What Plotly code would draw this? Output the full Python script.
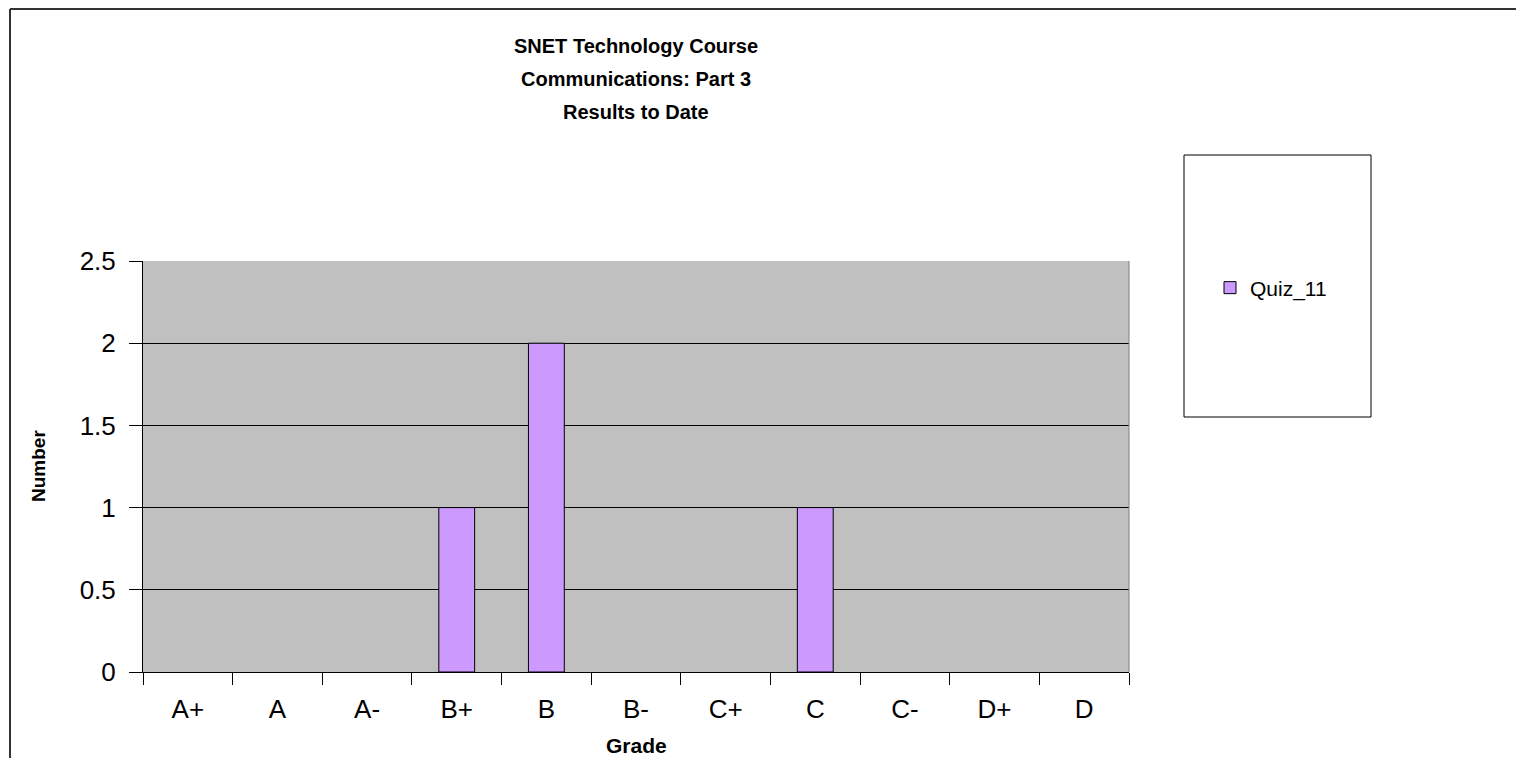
import plotly.graph_objects as go

grades = ["A+", "A", "A-", "B+", "B", "B-", "C+", "C", "C-", "D+", "D"]
quiz_11 = [0, 0, 0, 1, 2, 0, 0, 1, 0, 0, 0]
series_name = "Quiz_11"
title_lines = ["SNET Technology Course", "Communications: Part 3", "Results to Date"]
y_ticks = [0, 0.5, 1, 1.5, 2, 2.5]
y_tick_text = ["0", "0.5", "1", "1.5", "2", "2.5"]

# page has an 8px body margin; work in reference pixel coords and shift
OFF = 8
W, H = 1524 - OFF, 758 - OFF
L, R, T, B = 143 - OFF, 1129 - OFF, 261 - OFF, 672 - OFF
pw, ph = R - L, B - T


def px(x):
    return (x - OFF - L) / pw


def py(y):
    return (B - (y - OFF)) / ph


FONT = "Liberation Sans, Arial, sans-serif"

# zero counts are not drawn as bars (no outline at the baseline)
bar_y = [v if v > 0 else None for v in quiz_11]

fig = go.Figure()
fig.add_trace(go.Bar(
    x=grades, y=bar_y, name=series_name,
    marker=dict(color="#CC99FF", line=dict(color="#000000", width=1)),
    showlegend=True,
))

annotations = []
for line, yy in zip(title_lines, [46, 79, 112]):
    annotations.append(dict(
        text="<b>%s</b>" % line, x=0.5, y=py(yy), xref="paper", yref="paper",
        xanchor="center", yanchor="middle", showarrow=False,
        font=dict(family=FONT, size=20, color="#000000"),
    ))
annotations.append(dict(
    text="<b>Grade</b>", x=0.5, y=py(745), xref="paper", yref="paper",
    xanchor="center", yanchor="middle", showarrow=False,
    font=dict(family=FONT, size=21, color="#000000"),
))
annotations.append(dict(
    text="<b>Number</b>", x=px(38), y=py(466), xref="paper", yref="paper",
    xanchor="center", yanchor="middle", showarrow=False, textangle=-90,
    font=dict(family=FONT, size=19, color="#000000"),
))

shapes = [
    # outer chart border (top and left visible)
    dict(type="line", xref="paper", yref="paper", x0=px(10), x1=px(1530), y0=py(9), y1=py(9),
         line=dict(color="#333333", width=2)),
    dict(type="line", xref="paper", yref="paper", x0=px(10), x1=px(10), y0=py(9), y1=py(770),
         line=dict(color="#333333", width=2)),
    # plot area right edge
    dict(type="line", xref="paper", yref="paper", x0=1, x1=1, y0=0, y1=1,
         line=dict(color="#808080", width=1)),
    # legend box
    dict(type="rect", xref="paper", yref="paper", x0=px(1184), x1=px(1371), y0=py(417), y1=py(155),
         line=dict(color="#000000", width=1), fillcolor="rgba(0,0,0,0)"),
]

fig.update_layout(
    width=W, height=H,
    margin=dict(l=L, r=W - R, t=T, b=H - B, autoexpand=False),
    paper_bgcolor="#FFFFFF", plot_bgcolor="#C0C0C0",
    bargap=0.6,
    font=dict(family=FONT, color="#000000"),
    annotations=annotations,
    shapes=shapes,
    legend=dict(
        x=px(1210), y=py(288), xanchor="left", yanchor="middle",
        bgcolor="rgba(0,0,0,0)", borderwidth=0,
        font=dict(family=FONT, size=21, color="#000000"),
        itemwidth=30,
    ),
    xaxis=dict(
        type="category", categoryorder="array", categoryarray=grades,
        tickson="boundaries", ticks="outside", ticklen=12, tickcolor="#000000", tickwidth=1,
        showline=True, linecolor="#000000", linewidth=1,
        showgrid=False, zeroline=False,
        tickfont=dict(family=FONT, size=26, color="#000000"),
        ticklabelstandoff=14,
        range=[-0.5, len(grades) - 0.5],
    ),
    yaxis=dict(
        range=[0, 2.5], tickvals=y_ticks, ticktext=y_tick_text,
        ticks="outside", ticklen=13, tickcolor="#000000", tickwidth=1,
        showline=True, linecolor="#000000", linewidth=1,
        showgrid=True, gridcolor="#000000", gridwidth=1,
        zeroline=False,
        tickfont=dict(family=FONT, size=26, color="#000000"),
        ticklabelstandoff=8,
    ),
)

fig.write_html("out.html")
